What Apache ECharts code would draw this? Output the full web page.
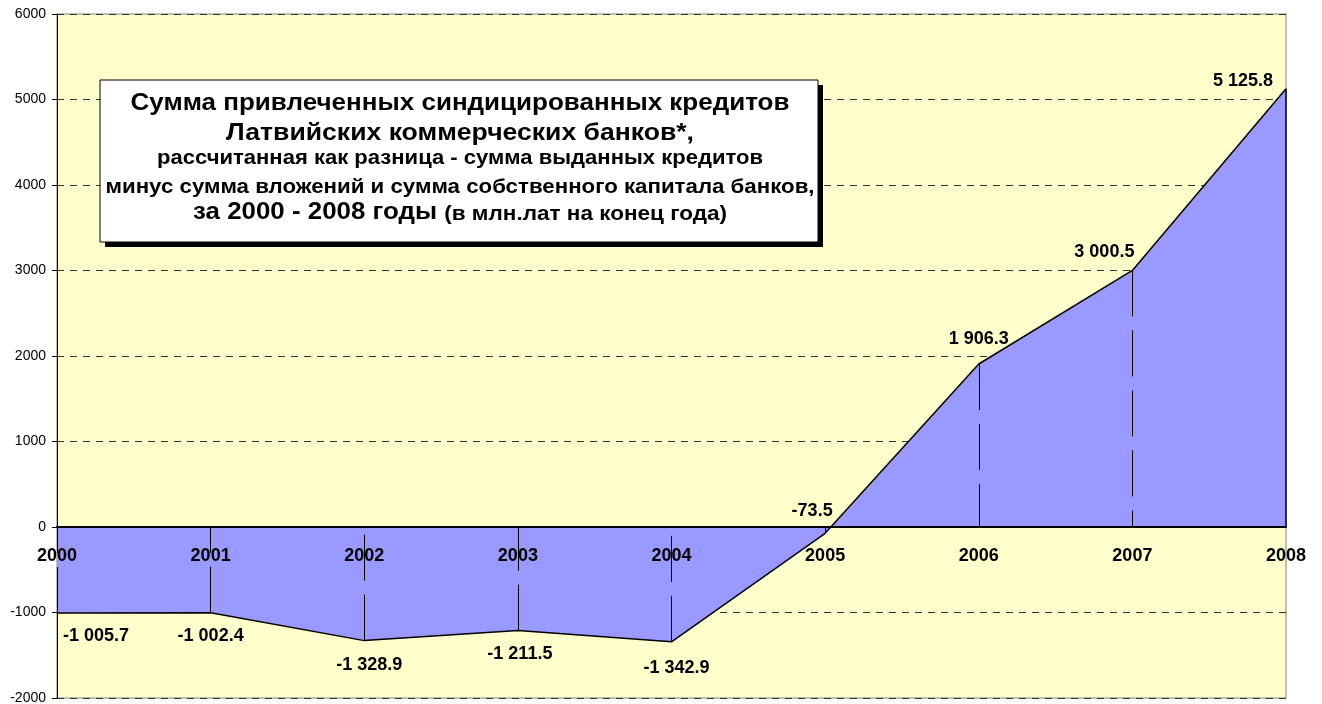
<!DOCTYPE html>
<html>
<head>
<meta charset="utf-8">
<script src="https://cdn.jsdelivr.net/npm/echarts@6/dist/echarts.min.js"></script>
<style>
html,body{margin:0;padding:0;background:#fff;}
#c{width:1322px;height:704px;}
</style>
</head>
<body>
<div id="c"></div>
<script>
// ---- data ----
const years = ['2000','2001','2002','2003','2004','2005','2006','2007','2008'];
const values = [-1005.7, -1002.4, -1328.9, -1211.5, -1342.9, -73.5, 1906.3, 3000.5, 5125.8];
const yMin = -2000, yMax = 6000, yStep = 1000;
const titleLines = [
  'Сумма привлеченных синдицированных кредитов',
  'Латвийских коммерческих банков*,',
  'рассчитанная как разница - сумма выданных кредитов',
  'минус сумма вложений и сумма собственного капитала банков,'
];
const titleLast = ['за 2000 - 2008 годы ', '(в млн.лат на конец года)'];

// ---- layout / style (not data) ----
const labelOffsets = [[39,23],[0,23],[5,24],[2,23],[5,26],[-13,-22],[0,-25],[-28,-18],[-43,-8]];
const FONT = '"Liberation Sans", Arial, sans-serif';

function fmt(v){
  const s = Math.abs(v).toFixed(1);
  const parts = s.split('.');
  const ip = parts[0].replace(/\B(?=(\d{3})+(?!\d))/g, ' ');
  return (v < 0 ? '-' : '') + ip + '.' + parts[1];
}

const ctx = document.createElement('canvas').getContext('2d');
function tw(text, size){
  ctx.font = 'bold ' + size + 'px ' + FONT;
  return ctx.measureText(text).width;
}

const cx = 460;
const big = 23, small = 20;
const lineSpecs = [
  {t: titleLines[0], size: big, base: 111.3, w: 659},
  {t: titleLines[1], size: big, base: 141.8, w: 468},
  {t: titleLines[2], size: small, base: 165.5, w: 606},
  {t: titleLines[3], size: small, base: 194.3, w: 709}
];
const graphics = [
  {type:'rect', shape:{x:105, y:85, width:718, height:162}, style:{fill:'#000'}, z:100},
  {type:'rect', shape:{x:100, y:80, width:718, height:162}, style:{fill:'#fff', stroke:'#000', lineWidth:1}, z:101}
];
lineSpecs.forEach(function(l){
  const s = l.w / tw(l.t, l.size);
  graphics.push({
    type:'text', x: cx, y: l.base - 0.35*l.size, scaleX: s, z:102,
    style:{text:l.t, font:'bold ' + l.size + 'px ' + FONT, fill:'#000',
      textAlign:'center', textVerticalAlign:'middle', align:'center', verticalAlign:'middle'}
  });
});
(function(){
  const w1 = tw(titleLast[0], big), w2 = tw(titleLast[1], small);
  const s = 534 / (w1 + w2);
  const x0 = cx - 534/2;
  const xs = x0 + s*w1;
  const base = 221;
  graphics.push({
    type:'text', x: xs, y: base - 0.35*big, scaleX: s, z:102,
    style:{text:titleLast[0], font:'bold ' + big + 'px ' + FONT, fill:'#000',
      textAlign:'right', textVerticalAlign:'middle', align:'right', verticalAlign:'middle'}
  });
  graphics.push({
    type:'text', x: xs, y: base - 0.35*small, scaleX: s, z:102,
    style:{text:titleLast[1], font:'bold ' + small + 'px ' + FONT, fill:'#000',
      textAlign:'left', textVerticalAlign:'middle', align:'left', verticalAlign:'middle'}
  });
})();

const seriesData = values.map(function(v, i){
  return { value: v, label: {offset: labelOffsets[i]} };
});

const lastIdx = values.length - 1;
const dropLines = values.map(function(v, i){
  const from = {coord:[years[i], v]};
  if (i === lastIdx) from.lineStyle = {type:'solid', width:1.5};
  return [from, {coord:[years[i], 0]}];
});

// category labels placed on the zero line
const zeroRow = years.map(function(){ return 0; });

const chart = echarts.init(document.getElementById('c'), null, {renderer:'canvas'});
chart.setOption({
  animation: false,
  backgroundColor: '#ffffff',
  grid: {left:57, right:36, top:14, bottom:6, show:true, backgroundColor:'#FFFFCC',
    borderColor:'#808080', borderWidth:1, containLabel:false, outerBoundsMode:'none'},
  xAxis: {
    type:'category', data: years, boundaryGap:false,
    axisLine:{onZero:true, lineStyle:{color:'#000', width:2}},
    axisTick:{show:false},
    axisLabel:{show:false},
    splitLine:{show:false},
    z: 5
  },
  yAxis: {
    type:'value', min:yMin, max:yMax, interval:yStep,
    axisLine:{show:true, lineStyle:{color:'#000', width:1}},
    axisTick:{show:true, length:5, lineStyle:{color:'#000'}},
    axisLabel:{margin:11, color:'#000', fontSize:14, fontFamily:FONT,
      formatter:function(v){ return String(v); }},
    splitLine:{show:true, lineStyle:{color:'#333', width:1, type:[7,6]}}
  },
  graphic: graphics,
  series: [{
    type:'line',
    data: seriesData,
    symbol:'circle', symbolSize:1,
    itemStyle:{color:'rgba(0,0,0,0)'},
    lineStyle:{color:'#000', width:1.5},
    areaStyle:{color:'#9999FF', opacity:1, origin:0},
    z: 2,
    label:{show:true, position:'inside', color:'#000', fontSize:18, fontWeight:'bold', fontFamily:FONT,
      align:'center', verticalAlign:'middle',
      formatter:function(p){ return fmt(p.value); }},
    markLine:{
      silent:true, symbol:['none','none'], animation:false,
      lineStyle:{color:'#000', width:1, type:[46,14]},
      label:{show:false},
      data: dropLines
    }
  }, {
    type:'line',
    data: zeroRow,
    symbol:'circle', symbolSize:1,
    itemStyle:{color:'rgba(0,0,0,0)'},
    lineStyle:{opacity:0},
    silent:true,
    z: 6,
    label:{show:true, position:'inside', offset:[0,29], color:'#000', fontSize:18, fontWeight:'bold', fontFamily:FONT,
      align:'center', verticalAlign:'middle',
      formatter:function(p){ return p.name; }}
  }]
});
</script>
</body>
</html>
